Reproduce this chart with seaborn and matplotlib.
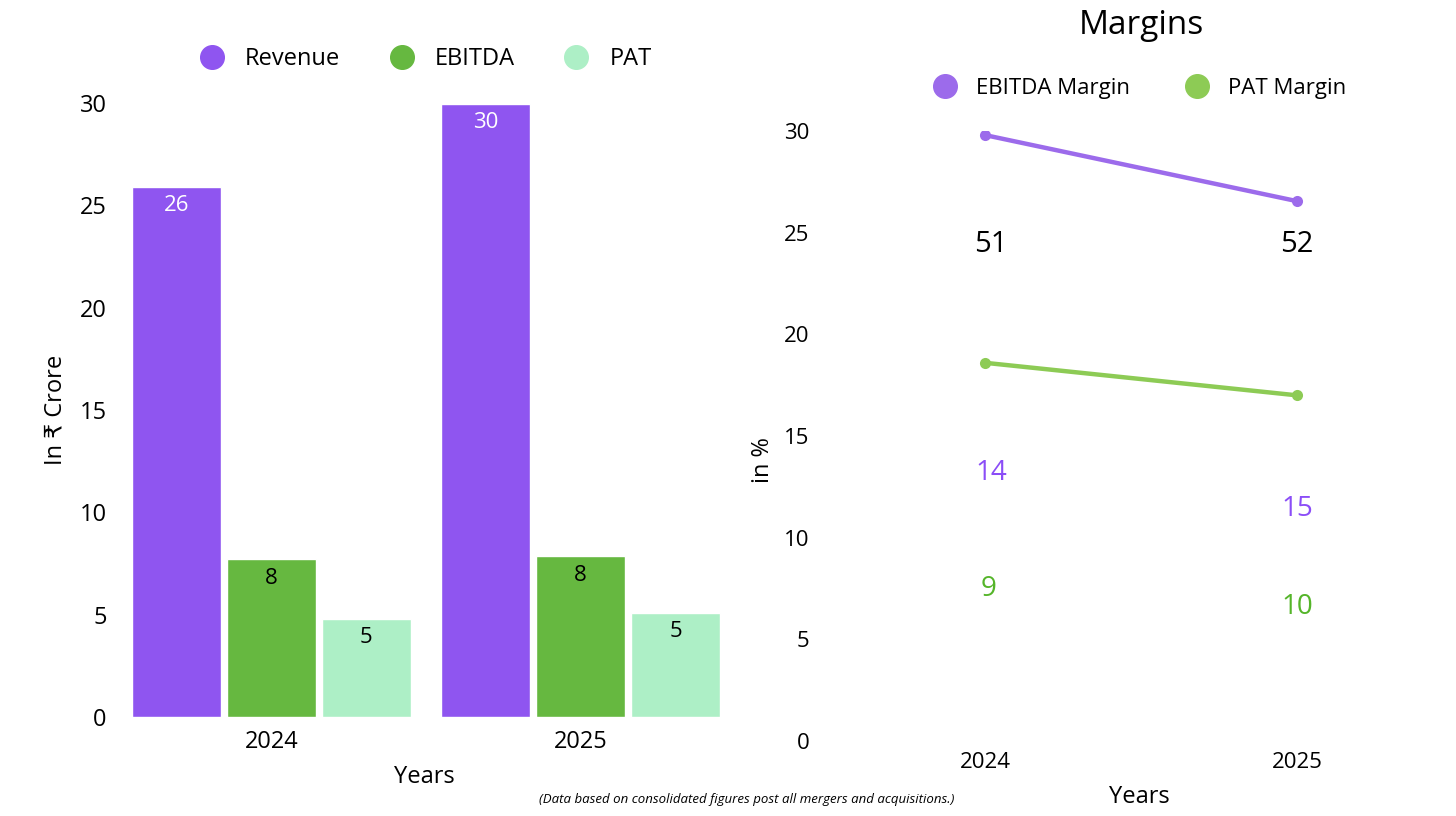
import pandas as pd
import matplotlib.pyplot as plt
import seaborn as sns
from matplotlib.lines import Line2D

# Data
years = ["2024", "2025"]
revenue = [25.9, 29.95]
ebitda = [7.7, 7.85]
pat = [4.8, 5.1]

ebitda_margin = [29.8, 26.55]
pat_margin = [18.6, 17.0]

# stray value labels on the margins panel (text, y position)
black_labels = ["51", "52"]
black_label_y = [24.4, 24.4]
purple_labels = ["14", "15"]
purple_label_y = [13.2, 11.4]
green_labels = ["9", "10"]
green_label_y = [7.5, 6.6]

sns.set_theme(style="white")
plt.rcParams["font.family"] = ["Open Sans", "DejaVu Sans"]
plt.rcParams["text.color"] = "black"
plt.rcParams["axes.labelcolor"] = "black"
plt.rcParams["xtick.color"] = "black"
plt.rcParams["ytick.color"] = "black"

bar_colors = {"Revenue": "#8F55F0", "EBITDA": "#66B840", "PAT": "#ADEFC6"}
line_colors = {"EBITDA Margin": "#9C6BEB", "PAT Margin": "#8DCB55"}

bars = pd.DataFrame({
    "Year": years * 3,
    "Metric": ["Revenue"] * 2 + ["EBITDA"] * 2 + ["PAT"] * 2,
    "Value": revenue + ebitda + pat,
})
lines = pd.DataFrame({
    "Year": years * 2,
    "Metric": ["EBITDA Margin"] * 2 + ["PAT Margin"] * 2,
    "Value": ebitda_margin + pat_margin,
})

fig = plt.figure(figsize=(14.56, 8.16), dpi=100)
ax1 = fig.add_axes([129 / 1456, 1 - 717 / 816, 594 / 1456, 614 / 816])
ax2 = fig.add_axes([829 / 1456, 1 - 741 / 816, 624 / 1456, 610 / 816])

# Left: grouped bars
sns.barplot(data=bars, x="Year", y="Value", hue="Metric", palette=bar_colors,
            width=0.92, gap=0.06, saturation=1, ax=ax1, legend=False)
ax1.set_xlim(-0.46, 1.46)
ax1.set_ylim(0, 30)
ax1.set_yticks(range(0, 31, 5))
label_colors = ["white", "black", "black"]
for cont, col in zip(ax1.containers, label_colors):
    ax1.bar_label(cont, labels=[f"{v:.0f}" for v in cont.datavalues],
                  padding=-21, color=col, fontsize=16)
ax1.tick_params(axis="y", length=0, pad=16, labelsize=17)
ax1.tick_params(axis="x", length=0, pad=9, labelsize=17)
ax1.set_xlabel("Years", fontsize=17)
ax1.set_ylabel("In ₹ Crore", fontsize=17)
ax1.xaxis.set_label_coords(0.498, -0.078)
ax1.yaxis.set_label_coords(-0.104, 0.5)
sns.despine(ax=ax1, left=True, bottom=True)

h1 = [Line2D([], [], marker="o", ls="", markersize=17, color=c) for c in bar_colors.values()]
ax1.legend(h1, bar_colors.keys(), loc="center", bbox_to_anchor=(0.49, 1.072),
           ncol=3, frameon=False, fontsize=17, handletextpad=0.4, columnspacing=1.6)

# Right: margin lines
sns.lineplot(data=lines, x="Year", y="Value", hue="Metric", palette=line_colors,
             marker="o", markersize=8, markeredgewidth=0, linewidth=3.2,
             ax=ax2, legend=False)
ax2.set_xlim(-0.5, 1.5)
ax2.set_ylim(0, 30)
ax2.set_yticks(range(0, 31, 5))
for i in range(len(years)):
    dx = 0.02 if i == 0 else 0.0
    ax2.text(i + dx, black_label_y[i], black_labels[i], color="black",
             fontsize=21, ha="center", va="center")
    ax2.text(i + dx, purple_label_y[i], purple_labels[i], color="#8B4DF7",
             fontsize=20, ha="center", va="center")
    ax2.text(i + dx / 2, green_label_y[i], green_labels[i], color="#55B52A",
             fontsize=20, ha="center", va="center")
ax2.tick_params(axis="y", length=0, pad=14, labelsize=16)
ax2.tick_params(axis="x", length=0, pad=8, labelsize=16)
ax2.set_xlabel("Years", fontsize=17)
ax2.set_ylabel("in %", fontsize=17)
ax2.xaxis.set_label_coords(0.498, -0.072)
ax2.yaxis.set_label_coords(-0.086, 0.46)
sns.despine(ax=ax2, left=True, bottom=True)

h2 = [Line2D([], [], marker="o", ls="", markersize=17, color=c) for c in line_colors.values()]
ax2.legend(h2, line_colors.keys(), loc="center", bbox_to_anchor=(0.49, 1.07),
           ncol=2, frameon=False, fontsize=16, handletextpad=0.4, columnspacing=2.0)

fig.text(1141 / 1456, 1 - 26 / 816, "Margins", fontsize=24, ha="center", va="center")
fig.text(747 / 1456, 1 - 800 / 816,
         "(Data based on consolidated figures post all mergers and acquisitions.)",
         fontsize=9.5, style="italic", ha="center", va="center")

fig.savefig("out.png", dpi=100)
